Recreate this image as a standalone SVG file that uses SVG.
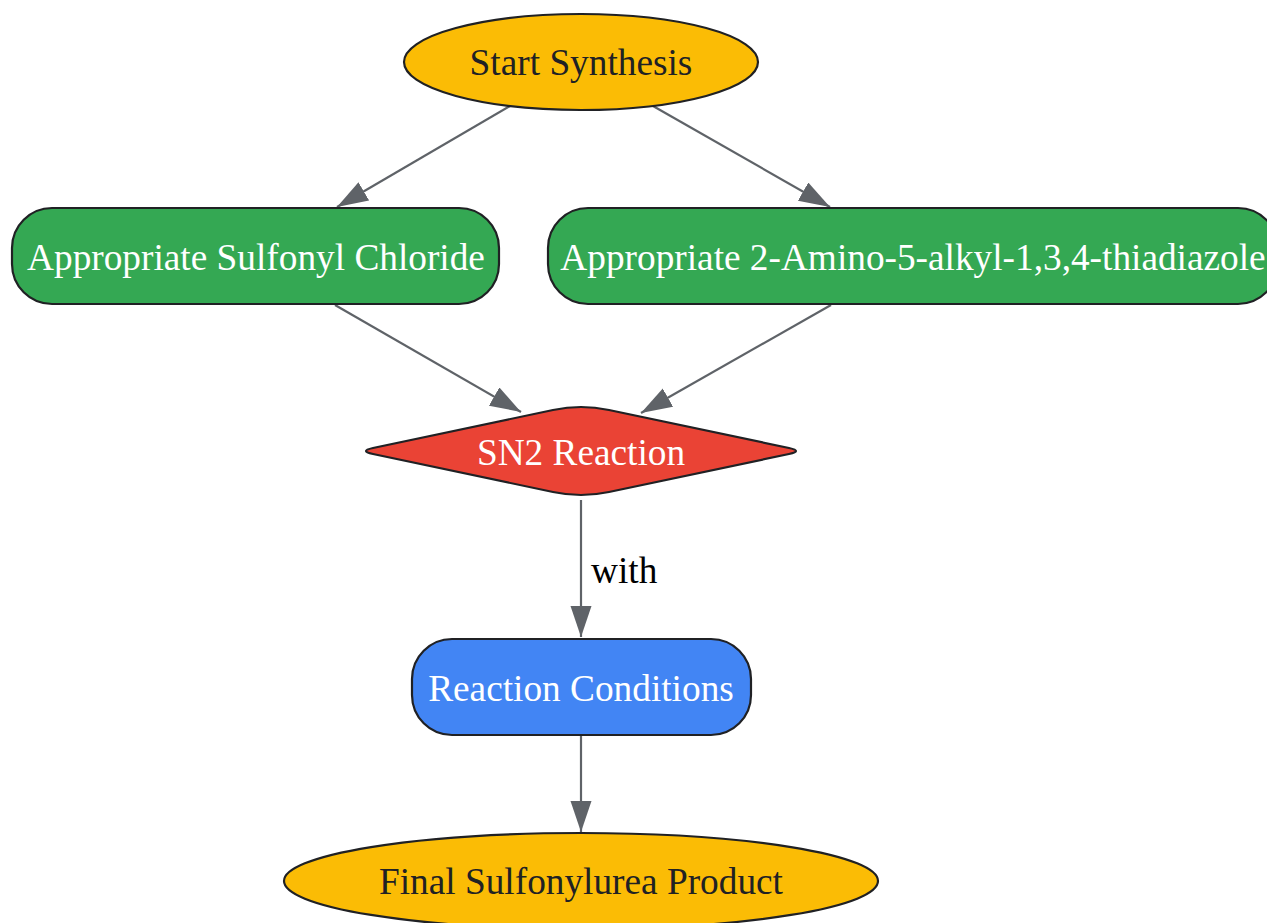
<svg xmlns="http://www.w3.org/2000/svg" width="1267" height="923" viewBox="0 0 1267 923">
<defs>
<style>
.lbl{font-family:"Liberation Serif","Times New Roman",serif;font-size:37.3px;text-anchor:middle}
.dark{fill:#202124}
.light{fill:#ffffff}
.node{stroke:#202124;stroke-width:2.2}
.edge{stroke:#5f6368;stroke-width:2.2;fill:none}
</style>
<marker id="arr" markerUnits="userSpaceOnUse" markerWidth="32" markerHeight="22" refX="31" refY="10.5" orient="auto">
<path d="M0,0 L31,10.5 L0,21 z" fill="#5f6368"/>
</marker>
</defs>
<rect width="1267" height="923" fill="#ffffff"/>
<g id="connectors">
<line class="edge" x1="510" y1="106" x2="337" y2="207" marker-end="url(#arr)"/>
<line class="edge" x1="653" y1="106" x2="830" y2="207" marker-end="url(#arr)"/>
<line class="edge" x1="335" y1="305" x2="521" y2="412" marker-end="url(#arr)"/>
<line class="edge" x1="831" y1="305" x2="641" y2="413" marker-end="url(#arr)"/>
<line class="edge" x1="581" y1="500" x2="581" y2="637" marker-end="url(#arr)"/>
<line class="edge" x1="581" y1="736" x2="581" y2="832" marker-end="url(#arr)"/>
<text x="591" y="583" font-family="Liberation Serif, Times New Roman, serif" font-size="37.3" fill="#000000">with</text>
</g>
<g id="start">
<ellipse class="node" cx="581" cy="62" rx="177" ry="48" fill="#fbbc05"/>
<text class="lbl dark" x="581" y="75">Start Synthesis</text>
</g>
<g id="sulfonyl">
<rect class="node" x="12" y="208" width="487" height="96" rx="40" ry="40" fill="#34a853"/>
<text class="lbl light" x="256" y="270">Appropriate Sulfonyl Chloride</text>
</g>
<g id="thiadiazole">
<rect class="node" x="548" y="208" width="730" height="96" rx="40" ry="40" fill="#34a853"/>
<text class="lbl light" x="913" y="270">Appropriate 2-Amino-5-alkyl-1,3,4-thiadiazole</text>
</g>
<g id="sn2">
<path class="node" fill="#ea4335" d="M373,448 L553,410 Q581,404 609,410 L789,448 Q803,451 789,454 L609,492 Q581,498 553,492 L373,454 Q359,451 373,448 Z"/>
<text class="lbl light" x="581" y="465">SN2 Reaction</text>
</g>
<g id="conditions">
<rect class="node" x="412" y="639" width="339" height="96" rx="40" ry="40" fill="#4285f4"/>
<text class="lbl light" x="581" y="701">Reaction Conditions</text>
</g>
<g id="final">
<ellipse class="node" cx="581" cy="881" rx="297" ry="48" fill="#fbbc05"/>
<text class="lbl dark" x="581" y="894">Final Sulfonylurea Product</text>
</g>
</svg>
